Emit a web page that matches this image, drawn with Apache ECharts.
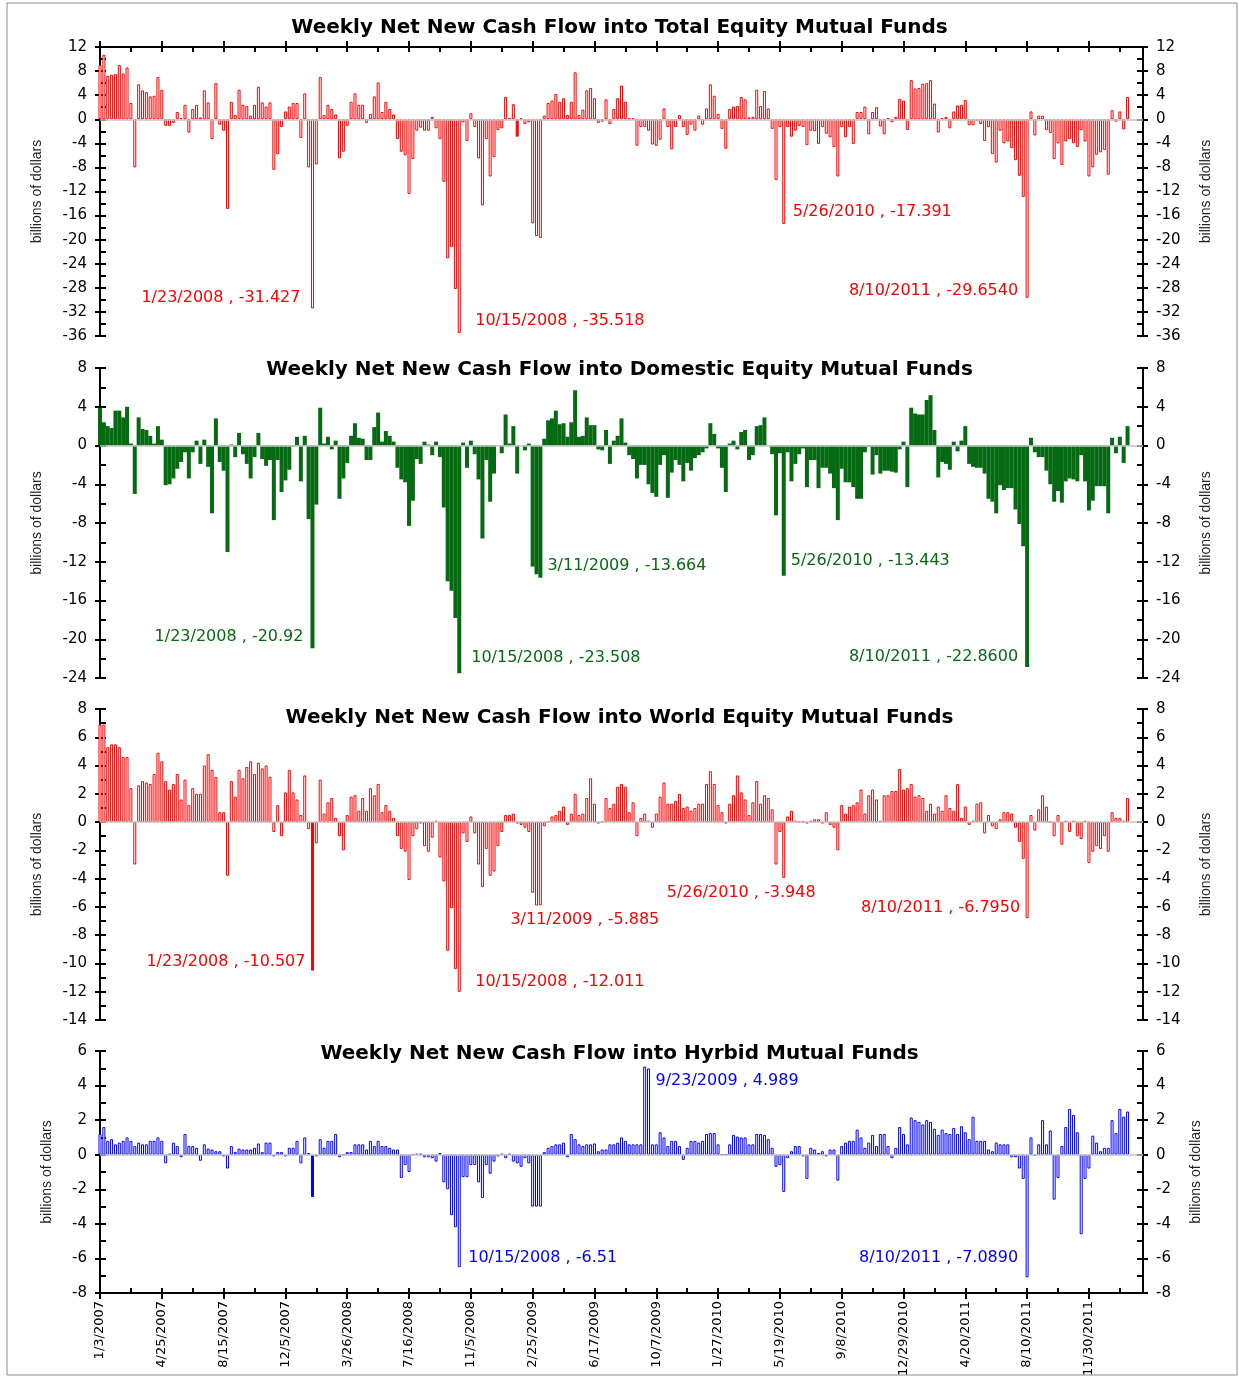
<!DOCTYPE html>
<html>
<head>
<meta charset="utf-8">
<script src="https://cdn.jsdelivr.net/npm/echarts/dist/echarts.min.js"></script>
<style>html,body{margin:0;padding:0;background:#fff}#c{width:1239px;height:1377px}</style>
</head>
<body>
<div id="c"></div>
<script>
// ---------------- DATA ----------------
const START_DATE = '2007-01-03';      // first weekly observation (Wednesday)
const AXIS_WEEKS = 271;               // number of weekly slots on the x axis
const TICK_LABELS = ['1/3/2007','4/25/2007','8/15/2007','12/5/2007','3/26/2008','7/16/2008','11/5/2008','2/25/2009',
  '6/17/2009','10/7/2009','1/27/2010','5/19/2010','9/8/2010','12/29/2010','4/20/2011','8/10/2011','11/30/2011'];

const TITLES = [
  'Weekly Net New Cash Flow into Total Equity Mutual Funds',
  'Weekly Net New Cash Flow into Domestic Equity Mutual Funds',
  'Weekly Net New Cash Flow into World Equity Mutual Funds',
  'Weekly Net New Cash Flow into Hyrbid Mutual Funds'
];
const Y_NAME = 'billions of dollars';

const TOTAL = [
 9.0,10.7,7.2,7.4,7.5,9.0,7.6,8.6,2.7,-8.0,5.8,4.8,4.5,3.8,3.9,7.0,
 4.9,-1.1,-1.1,-0.6,1.2,0.2,2.4,-2.2,1.7,2.4,0.3,4.8,2.8,-3.3,6.0,-0.9,
 -1.9,-14.9,2.9,0.7,4.9,2.4,2.2,0.6,2.4,5.4,2.8,2.1,2.8,-8.4,-5.8,-1.3,
 1.3,2.1,2.7,2.7,-3.1,4.3,-8.0,-31.427,-7.5,7.0,0.7,2.4,1.7,0.8,-6.5,-5.4,
 -1.1,2.9,4.3,2.4,2.4,-0.6,0.9,3.8,6.1,1.2,2.9,1.7,0.8,-3.3,-5.4,-6.0,
 -12.4,-6.6,-1.9,-1.4,-1.9,-1.9,0.4,-1.5,-3.3,-10.4,-23.1,-21.2,-28.2,-35.518,-0.5,-3.6,
 1.0,-1.3,-6.5,-14.3,-3.3,-9.5,-6.3,-1.8,-1.5,3.7,0.2,2.5,-2.9,0.1,-0.8,-0.5,
 -17.3,-19.4,-19.7,0.6,2.7,3.1,4.2,2.9,3.5,0.7,2.9,7.8,0.7,1.6,4.8,5.2,
 3.5,-0.6,-0.4,3.3,-0.8,1.7,3.5,5.6,2.9,0.1,0.1,-4.4,-1.3,-1.3,-1.9,-4.2,
 -4.4,-3.4,1.8,-1.3,-5.0,-1.3,0.7,-1.3,-2.6,-0.9,-1.9,0.6,-0.9,1.8,5.8,3.9,
 0.9,-1.6,-4.9,1.7,2.1,2.2,3.7,3.3,0.3,0.4,4.9,2.2,4.7,1.8,-1.6,-10.1,
 -1.3,-17.391,-1.3,-2.9,-1.9,-1.1,-1.3,-4.3,-1.9,-2.0,-4.1,-1.3,-2.4,-3.0,-4.6,-9.5,
 -1.3,-3.0,-1.3,-4.1,1.2,1.2,2.1,-2.5,1.2,2.0,-1.2,-2.5,0.2,-0.5,0.4,3.4,
 3.1,-1.8,6.5,5.1,5.2,5.9,6.0,6.5,2.6,-2.2,0.2,0.4,-1.5,1.3,2.3,2.4,
 3.2,-1.0,-1.0,-0.3,-0.8,-3.6,-1.3,-5.8,-7.2,-1.9,-4.0,-3.7,-4.8,-6.8,-9.4,-12.9,
 -29.654,1.3,-2.7,0.6,0.6,-1.8,-2.3,-6.6,-4.0,-7.6,-3.7,-3.3,-4.0,-4.6,-1.8,-3.7,
 -9.5,-8.0,-5.9,-5.5,-5.1,-9.2,1.5,-0.4,1.3,-1.7,3.7
];
const DOMESTIC = [
 3.9,2.4,2.0,1.8,3.6,3.6,2.9,4.0,0.2,-5.0,2.9,1.7,1.6,1.0,0.2,2.0,
 0.6,-4.1,-4.0,-3.4,-2.4,-1.7,-0.7,-3.4,-0.7,0.5,-1.9,0.6,-2.2,-7.0,2.8,-1.7,
 -2.6,-11.0,0.1,-1.2,1.3,-0.9,-1.9,-3.4,-1.2,1.3,-1.4,-2.1,-1.5,-7.7,-1.5,-4.8,
 -3.6,-2.5,-0.1,0.9,-3.7,1.0,-7.6,-20.92,-6.1,3.9,0.2,0.9,-0.4,0.5,-5.5,-3.4,
 -1.8,1.0,2.3,0.8,0.7,-1.5,-1.5,1.9,3.4,0.4,1.5,1.0,0.4,-2.3,-3.5,-3.8,
 -8.3,-5.7,-1.4,-1.9,0.4,0.1,-1.0,0.4,-1.2,-6.4,-14.0,-15.0,-17.8,-23.508,0.3,-2.3,
 0.5,-0.9,-3.5,-9.6,-1.5,-5.8,-2.9,0.0,-0.8,3.2,0.2,2.0,-2.9,0.0,-0.5,0.2,
 -12.5,-13.3,-13.664,0.7,2.6,2.8,3.6,2.2,2.3,0.9,2.4,5.7,0.9,1.0,2.9,2.1,
 2.1,-0.4,-0.5,1.6,-1.9,0.5,1.0,2.8,0.3,-1.0,-1.4,-3.4,-2.0,-2.0,-4.0,-4.9,
 -5.3,-2.0,-1.0,-5.4,-2.8,-1.5,-2.0,-3.7,-1.8,-2.6,-1.3,-1.0,-0.7,-0.3,2.3,1.2,
 -0.3,-2.3,-4.8,0.2,0.5,-0.4,1.4,1.6,-1.5,-1.0,2.0,2.1,2.9,0.0,-0.9,-7.2,
 -0.8,-13.443,-0.7,-3.7,-1.9,-0.9,-0.3,-4.3,-1.5,-1.5,-4.4,-2.3,-2.3,-2.9,-4.4,-7.7,
 -2.4,-3.8,-3.8,-4.3,-5.5,-5.5,-0.7,-0.1,-3.0,-1.0,-2.9,-2.6,-2.6,-2.7,-2.8,-0.4,
 0.4,-4.3,3.9,3.3,3.2,3.2,4.7,5.2,1.6,-3.3,-1.7,-1.9,-2.5,0.4,-0.6,0.5,
 2.0,-1.9,-2.2,-2.3,-2.3,-2.9,-5.5,-5.8,-7.0,-4.1,-4.6,-4.4,-4.4,-6.6,-8.1,-10.4,
 -22.86,0.8,-0.7,-1.2,-1.2,-2.6,-4.0,-5.8,-4.7,-5.9,-3.7,-3.4,-3.5,-3.7,-1.0,-3.7,
 -6.7,-5.7,-4.2,-4.2,-4.2,-7.0,0.8,-0.8,0.9,-1.8,2.0
];
const WORLD = [
 6.9,6.9,5.3,5.5,5.5,5.3,4.6,4.6,2.4,-3.0,2.6,2.9,2.8,2.7,3.4,4.9,
 4.3,2.9,2.3,2.7,3.4,1.6,3.0,1.2,2.4,2.0,2.0,4.0,4.8,3.7,3.2,0.7,
 0.7,-3.8,2.9,1.8,3.7,3.1,3.9,4.3,3.4,4.2,3.8,4.0,3.2,-0.7,1.2,-1.0,
 2.1,3.7,2.1,1.6,0.5,3.3,-0.5,-10.507,-1.5,3.0,0.6,1.4,1.7,0.3,-1.0,-2.0,
 0.5,1.8,1.9,0.8,1.7,0.8,2.4,1.9,2.7,0.7,1.2,0.8,0.3,-1.0,-1.9,-2.1,
 -4.1,-1.0,-0.5,-0.1,-1.7,-2.1,-1.1,0.1,-2.5,-4.2,-9.1,-6.1,-10.4,-12.011,-0.8,-1.4,
 0.4,-0.8,-3.0,-4.6,-1.9,-3.8,-3.5,-1.7,-0.7,0.5,0.5,0.6,-0.1,-0.2,-0.4,-0.7,
 -5.0,-5.9,-5.885,-0.3,0.05,0.4,0.5,0.8,1.1,-0.2,0.6,2.0,0.5,0.6,1.7,3.1,
 1.3,-0.1,0.05,1.7,1.0,1.3,2.5,2.7,2.5,0.7,1.4,-1.0,0.3,0.6,0.1,-0.4,
 0.6,1.8,2.8,1.3,1.3,1.5,2.0,1.0,1.1,0.8,1.0,1.3,1.3,2.7,3.6,2.7,
 1.2,0.7,-0.1,1.3,1.9,3.3,2.1,1.6,0.5,1.4,2.9,1.3,1.9,1.7,0.9,-3.0,
 -0.7,-3.948,0.4,0.8,0.1,0.05,0.05,-0.1,0.1,0.2,0.2,-0.1,0.7,-0.2,-0.4,-2.0,
 1.2,0.6,1.1,1.2,1.4,2.3,0.6,1.9,2.3,1.6,0.1,1.9,1.9,2.2,2.2,3.75,
 2.3,2.4,2.7,1.8,1.9,1.7,0.8,1.3,0.6,1.1,0.8,1.9,1.0,0.8,2.7,0.3,
 1.1,-0.2,0.1,1.3,1.4,-0.8,0.5,-0.3,-0.5,0.2,0.7,0.7,0.6,-0.4,-1.4,-2.6,
 -6.795,0.5,-0.6,0.9,1.9,1.1,0.0,-1.0,0.5,-1.6,0.1,-0.7,0.1,-1.0,-1.2,0.1,
 -2.9,-2.1,-1.7,-1.9,-1.0,-2.1,0.7,0.3,0.3,0.1,1.7
];
const HYBRID = [
 1.2,1.6,0.8,0.9,0.6,0.7,0.8,1.0,0.8,0.5,0.7,0.6,0.6,0.8,0.8,1.0,
 0.8,-0.5,0.05,0.7,0.5,-0.15,1.2,0.5,0.5,0.4,-0.35,0.6,0.35,0.3,0.2,0.2,
 -0.1,-0.8,0.5,0.15,0.35,0.3,0.3,0.3,0.4,0.65,0.15,0.7,0.7,-0.1,0.15,0.15,
 -0.1,0.4,0.4,0.8,-0.5,1.0,0.1,-2.45,-0.1,0.9,0.4,0.8,0.8,1.2,-0.15,0.02,
 0.15,0.15,0.6,0.6,0.6,0.3,0.8,0.5,0.8,0.5,0.5,0.4,0.3,0.3,-1.35,-0.6,
 -1.0,0.02,0.05,0.05,-0.15,-0.15,-0.2,-0.4,0.1,-1.6,-2.0,-3.5,-4.2,-6.51,-1.3,-1.3,
 -0.6,-0.6,-1.6,-2.5,-0.6,-1.1,-0.4,-0.1,0.05,-0.2,0.05,-0.4,-0.5,-0.7,-0.2,-0.5,
 -3.0,-3.0,-3.0,0.15,0.4,0.5,0.6,0.6,0.7,-0.15,1.2,0.9,0.6,0.5,0.6,0.6,
 0.65,0.2,0.3,0.3,0.6,0.6,0.7,1.0,0.8,0.6,0.6,0.6,0.6,5.1,4.989,0.6,
 0.6,1.3,1.0,0.5,0.8,0.8,0.5,-0.3,0.4,0.8,0.8,0.7,0.8,1.2,1.25,1.25,
 0.6,0.02,0.02,0.6,1.15,1.05,1.0,1.0,0.6,0.6,1.2,1.2,1.15,0.9,0.4,-0.7,
 -0.6,-2.15,-0.2,0.2,0.5,0.5,-0.1,-1.4,0.4,0.3,0.1,0.2,-0.1,0.3,0.3,-1.5,
 0.5,0.7,0.8,0.8,1.45,1.0,0.4,0.7,1.15,0.5,1.2,1.2,0.5,-0.2,0.4,1.6,
 1.2,0.6,2.15,2.0,1.9,1.75,2.0,1.9,1.5,1.15,1.45,1.25,1.2,1.55,1.2,1.65,
 1.3,0.9,2.2,0.8,0.8,0.8,0.3,0.2,0.7,0.6,0.6,0.6,-0.15,-0.15,-0.8,-1.4,
 -7.089,1.0,-0.05,0.6,2.0,0.6,1.4,-2.6,-1.35,0.5,1.6,2.65,2.3,1.3,-4.6,-1.4,
 -0.8,1.1,0.7,0.2,0.4,0.4,2.0,1.25,2.65,2.2,2.5
];

// annotated weeks and the text printed next to them
const TOTAL_NOTE_DATES    = ['1/23/2008','10/15/2008','5/26/2010','8/10/2011'];
const TOTAL_NOTE_TEXT     = ['-31.427','-35.518','-17.391','-29.6540'];
const DOMESTIC_NOTE_DATES = ['1/23/2008','10/15/2008','3/11/2009','5/26/2010','8/10/2011'];
const DOMESTIC_NOTE_TEXT  = ['-20.92','-23.508','-13.664','-13.443','-22.8600'];
const WORLD_NOTE_DATES    = ['1/23/2008','10/15/2008','3/11/2009','5/26/2010','8/10/2011'];
const WORLD_NOTE_TEXT     = ['-10.507','-12.011','-5.885','-3.948','-6.7950'];
const HYBRID_NOTE_DATES   = ['9/23/2009','10/15/2008','8/10/2011'];
const HYBRID_NOTE_TEXT    = ['4.989','-6.51','-7.0890'];

// weeks drawn as solid (narrow) bars in the outlined panels
const TOTAL_SOLID  = ['1/28/2009'];
const WORLD_SOLID  = ['1/23/2008'];
const HYBRID_SOLID = ['1/23/2008'];

// ---------------- LAYOUT / STYLE ----------------
const FONT = 'DejaVu Sans';
const start = new Date(START_DATE + 'T00:00:00Z').getTime();
const cats = [];
for (let i = 0; i < AXIS_WEEKS; i++) {
  const d = new Date(start + i * 7 * 86400000);
  cats.push((d.getUTCMonth() + 1) + '/' + d.getUTCDate() + '/' + d.getUTCFullYear());
}
const isMajor = (i) => TICK_LABELS.indexOf(cats[i]) >= 0;
const isMinor = (i) => i % 8 === 0;

// note label layout: [align, dx, dy]
const NOTE_LAYOUT = [
  [['right',-12,-11],['left',16,-12],['left',9,-12],['right',-9,-7]],
  [['right',-9,-11],['left',12,-15],['left',7,-12],['left',7,-15],['right',-9,-10]],
  [['right',-7,-9],['left',16,-10],['left',-30,15],['left',-117,15],['right',-7,-10]],
  [['left',7,12],['left',9,-9],['right',-9,-19]]
];

const PANELS = [
  {data: TOTAL, dates: TOTAL_NOTE_DATES, texts: TOTAL_NOTE_TEXT, solid: TOTAL_SOLID,
   min:-36, max:12, interval:4, color:'#ff0000', hollow:true, top:47, height:289, titleTop:18, nameGap:56},
  {data: DOMESTIC, dates: DOMESTIC_NOTE_DATES, texts: DOMESTIC_NOTE_TEXT, solid: [],
   min:-24, max:8, interval:4, color:'#066a12', hollow:false, top:368, height:310, titleTop:360, nameGap:56},
  {data: WORLD, dates: WORLD_NOTE_DATES, texts: WORLD_NOTE_TEXT, solid: WORLD_SOLID,
   min:-14, max:8, interval:2, color:'#ff0000', hollow:true, top:709, height:311, titleTop:708, nameGap:56},
  {data: HYBRID, dates: HYBRID_NOTE_DATES, texts: HYBRID_NOTE_TEXT, solid: HYBRID_SOLID,
   min:-8, max:6, interval:2, color:'#0000ff', hollow:true, top:1051, height:242, titleTop:1044, nameGap:46}
];

const grids = [], xAxes = [], yAxes = [], series = [], titles = [];
const axisLineStyle = {color:'#000', width:2};

PANELS.forEach((p, k) => {
  grids.push({left:100, width:1043, top:p.top, height:p.height, containLabel:false, outerBoundsMode:'none'});
  titles.push({text: TITLES[k], left:'center', top:p.titleTop, padding:0,
    textStyle:{fontFamily:FONT, fontWeight:'bold', fontSize:20, color:'#000'}});

  const isTop = k === 0, isBottom = k === 3;
  xAxes.push({
    type:'category', gridIndex:k, data:cats, boundaryGap:false,
    position: isBottom ? 'bottom' : 'top',
    show: isTop || isBottom,
    axisLine:{show:true, onZero:false, lineStyle:axisLineStyle},
    axisTick:{show:true, inside:false, length:6, interval:(i)=>isMajor(i), lineStyle:{color:'#000', width:2}},
    axisLabel:{show:isBottom, interval:(i)=>isMajor(i), rotate:90, fontSize:13, fontFamily:FONT, color:'#000', margin:8},
    splitLine:{show:false}
  });

  const yBase = {type:'value', gridIndex:k, min:p.min, max:p.max, interval:p.interval,
    axisLine:{show:true, onZero:false, lineStyle:axisLineStyle}, splitLine:{show:false}};
  const nameStyle = {fontFamily:'Liberation Sans', fontSize:14, color:'#222'};
  ['left','right'].forEach(pos => {
    yAxes.push(Object.assign({}, yBase, {
      position:pos,
      axisTick:{show:true, inside:false, length:5, lineStyle:{color:'#000', width:2}},
      axisLabel:{show:true, margin:13, fontSize:15, fontFamily:FONT, color:'#000'},
      name:Y_NAME, nameLocation:'middle', nameGap:p.nameGap, nameRotate:90, nameTextStyle:nameStyle
    }));
    yAxes.push(Object.assign({}, yBase, {
      position:pos,
      axisTick:{show:true, inside:true, length:6, lineStyle:{color:'#000', width:2}},
      minorTick:{show:true, splitNumber:2, length:6, lineStyle:{color:'#000', width:2}},
      axisLabel:{show:false}
    }));
  });

  const solidIdx = p.solid.map(d => cats.indexOf(d));
  const barData = p.data.map((v, i) => solidIdx.indexOf(i) >= 0
      ? {value:v, itemStyle:{color:p.color, borderColor:p.color}} : v);

  const notes = p.dates.map((d, j) => {
    const idx = cats.indexOf(d);
    const lay = NOTE_LAYOUT[k][j];
    return {coord:[idx, p.data[idx]], symbolSize:0,
      label:{show:true, formatter: d + ' , ' + p.texts[j], position:'inside',
        align:lay[0], verticalAlign:'middle', offset:[lay[1], lay[2]],
        color:p.color, fontSize:16, fontFamily:FONT}};
  });

  series.push({
    type:'bar', xAxisIndex:k, yAxisIndex:k*4, data:barData,
    barWidth: p.hollow ? 3 : 4,
    itemStyle: p.hollow ? {color:'#ffffff', borderColor:p.color, borderWidth:1}
                        : {color:p.color, borderWidth:0},
    emphasis:{disabled:true}, silent:true, animation:false,
    markLine:{silent:true, symbol:'none', animation:false, label:{show:false},
      lineStyle:{color:'#c4c4c4', width:1.5, type:'solid'}, data:[{yAxis:0}]},
    markPoint:{symbol:'circle', symbolSize:0, animation:false, silent:true, data:notes}
  });
});

// inner (inside) ticks for the two visible horizontal axes
[0, 3].forEach(k => {
  xAxes.push({
    type:'category', gridIndex:k, data:cats, boundaryGap:false,
    position: k === 3 ? 'bottom' : 'top',
    axisLine:{show:false, onZero:false},
    axisTick:{show:true, inside:true, length:5, interval:(i)=>isMinor(i), lineStyle:{color:'#000', width:2}},
    axisLabel:{show:false}, splitLine:{show:false}
  });
});

const chart = echarts.init(document.getElementById('c'), null, {renderer:'canvas'});
chart.setOption({
  backgroundColor:'#ffffff',
  animation:false,
  title:titles,
  grid:grids,
  xAxis:xAxes,
  yAxis:yAxes,
  series:series,
  graphic:[{type:'rect', shape:{x:7, y:3, width:1230, height:1372}, silent:true,
    style:{fill:'none', stroke:'#8c8c8c', lineWidth:1}}]
});
</script>
</body>
</html>
